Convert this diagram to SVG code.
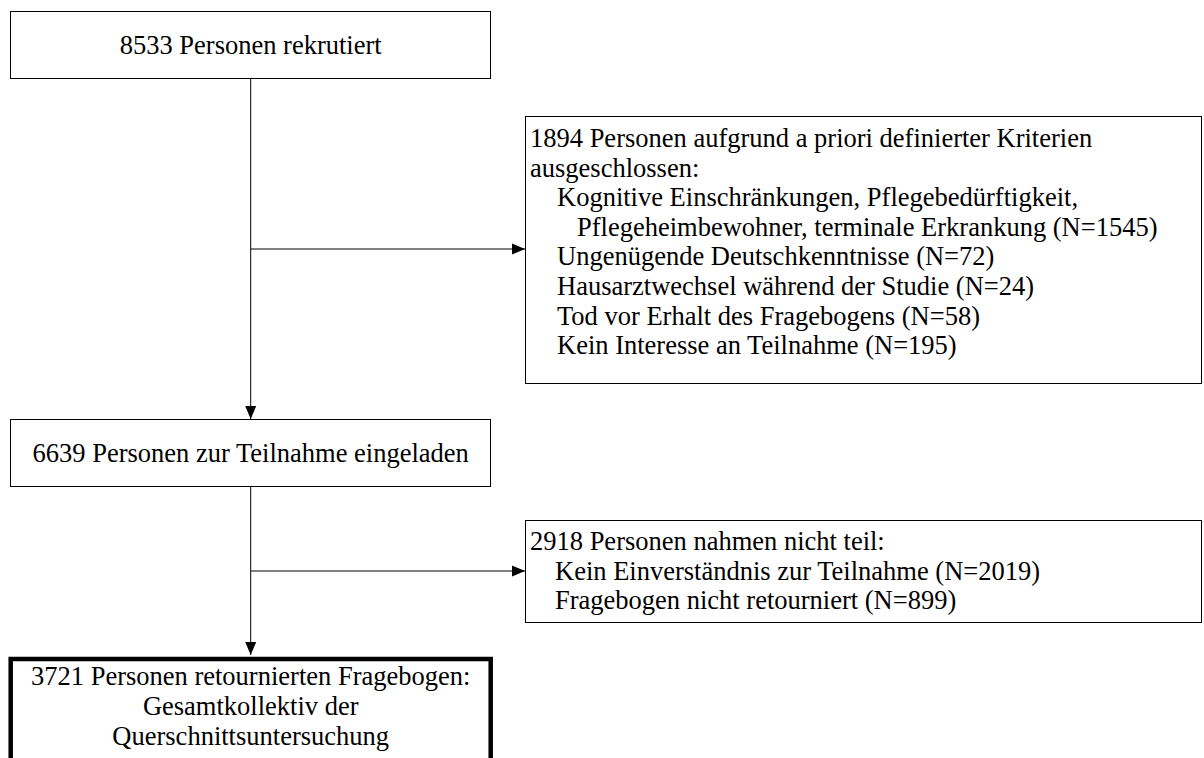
<svg xmlns="http://www.w3.org/2000/svg" width="1204" height="758" viewBox="0 0 1204 758">
<style>
.box{fill:#fff;stroke:#000;stroke-width:1}
.thick{fill:#fff;stroke:#000;stroke-width:4.5}
.t{font-family:"Liberation Serif","Times New Roman",serif;font-size:26.5px;fill:#000}
.c{text-anchor:middle}
.con{fill:none;stroke:#000;stroke-width:1}
</style>
<defs>
<marker id="ah" markerUnits="userSpaceOnUse" markerWidth="14" markerHeight="14" viewBox="0 0 14 14" refX="13" refY="7" orient="auto">
<path d="M0,1.5 L13,7 L0,12.5 Z" fill="#000"/>
</marker>
</defs>
<g id="connectors">
<line class="con" x1="250.7" y1="78" x2="250.7" y2="419" marker-end="url(#ah)"/>
<line class="con" x1="250.7" y1="249" x2="525" y2="249" marker-end="url(#ah)"/>
<line class="con" x1="250.7" y1="487" x2="250.7" y2="655" marker-end="url(#ah)"/>
<line class="con" x1="250.7" y1="571" x2="525" y2="571" marker-end="url(#ah)"/>
</g>
<g id="n1">
<rect class="box" x="10.5" y="11.5" width="480" height="67"/>
<text class="t c" x="250.7" y="54">8533 Personen rekrutiert</text>
</g>
<g id="n2">
<rect class="box" x="525.5" y="116.5" width="676" height="267"/>
<text class="t" x="530" y="147">1894 Personen aufgrund a priori definierter Kriterien</text>
<text class="t" x="530" y="176.6">ausgeschlossen:</text>
<text class="t" x="557" y="206.2">Kognitive Einschränkungen, Pflegebedürftigkeit,</text>
<text class="t" x="577" y="235.8">Pflegeheimbewohner, terminale Erkrankung (N=1545)</text>
<text class="t" x="557" y="265.4">Ungenügende Deutschkenntnisse (N=72)</text>
<text class="t" x="557" y="295">Hausarztwechsel während der Studie (N=24)</text>
<text class="t" x="557" y="324.6">Tod vor Erhalt des Fragebogens (N=58)</text>
<text class="t" x="557" y="354.2">Kein Interesse an Teilnahme (N=195)</text>
</g>
<g id="n3">
<rect class="box" x="10.5" y="419.5" width="480" height="67"/>
<text class="t c" x="250.7" y="462">6639 Personen zur Teilnahme eingeladen</text>
</g>
<g id="n4">
<rect class="box" x="525.5" y="520.5" width="676" height="102"/>
<text class="t" x="530" y="550">2918 Personen nahmen nicht teil:</text>
<text class="t" x="555" y="579.6">Kein Einverständnis zur Teilnahme (N=2019)</text>
<text class="t" x="555" y="609.2">Fragebogen nicht retourniert (N=899)</text>
</g>
<g id="n5">
<rect class="thick" x="10.7" y="659" width="480" height="110"/>
<text class="t c" x="250.7" y="685">3721 Personen retournierten Fragebogen:</text>
<text class="t c" x="250.7" y="715">Gesamtkollektiv der</text>
<text class="t c" x="250.7" y="745">Querschnittsuntersuchung</text>
</g>
</svg>
